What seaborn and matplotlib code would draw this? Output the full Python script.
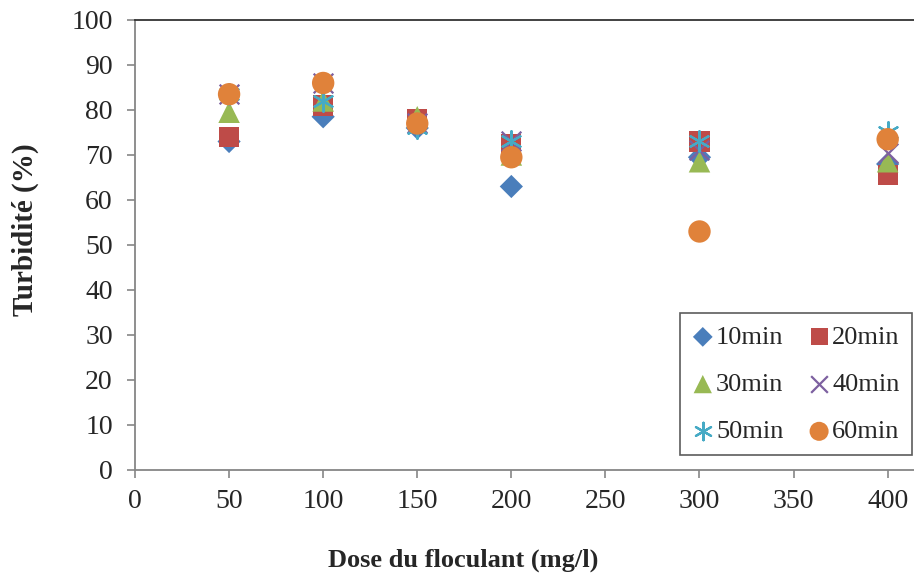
import matplotlib
matplotlib.use("Agg")
import matplotlib.pyplot as plt
import seaborn as sns
import pandas as pd

doses = [50, 100, 150, 200, 300, 400]
series_names = ["10min", "20min", "30min", "40min", "50min", "60min"]
v10 = [73, 78.5, 76, 63, 69.5, 68]
v20 = [74, 81, 78, 72.5, 73, 65.5]
v30 = [79.5, 82, 78.5, 70, 68.5, 68.5]
v40 = [83.5, 86, 77, 73, 71, 70.5]
v50 = [83.5, 82, 76, 73, 73, 75]
v60 = [83.5, 86, 77, 69.5, 53, 73.5]
values = [v10, v20, v30, v40, v50, v60]

colors = ["#4A7EBB", "#BE4B48", "#98B954", "#7D60A0", "#46AAC5", "#E0823A"]
markers = ["D", "s", "^", "x", (6, 2, 0), "o"]
sizes = [140, 210, 240, 200, 220, 260]

sns.set_style("white")
plt.rcParams['font.family'] = ['Liberation Serif', 'DejaVu Serif']

fig = plt.figure(figsize=(9.14, 5.73), dpi=100)
ax = fig.add_axes([0.1477, 0.1798, 0.8523, 0.7853])

for name, vals, c, m, s in zip(series_names, values, colors, markers, sizes):
    df = pd.DataFrame({"dose": doses, "val": vals})
    kw = dict(color=c, marker=m, s=s, label=name, ax=ax, zorder=3)
    if m in ("x", (6, 2, 0)):
        kw["linewidth"] = 1.6
    else:
        kw["edgecolor"] = "none"
    sns.scatterplot(data=df, x="dose", y="val", **kw)

ax.set_xlim(0, 414)
ax.set_ylim(0, 100)
ax.set_xticks(range(0, 401, 50))
ax.set_yticks(range(0, 101, 10))
ax.tick_params(axis="both", which="major", labelsize=20, direction="out",
               length=6, width=1.2, color="#868686", left=True, bottom=True)
ax.tick_params(axis="y", pad=10)
ax.tick_params(axis="x", pad=8)

for sp in ["left", "bottom"]:
    ax.spines[sp].set_color("#868686")
    ax.spines[sp].set_linewidth(1.3)
ax.spines["top"].set_color("#333333")
ax.spines["top"].set_linewidth(1.3)
ax.spines["right"].set_visible(False)

ax.set_xlabel("Dose du floculant (mg/l)", fontsize=19, fontweight="bold")
ax.xaxis.set_label_coords(0.421, -0.2)
ax.xaxis.label.set_verticalalignment("center")
ax.set_ylabel("Turbidité (%)", fontsize=21, fontweight="bold")
ax.yaxis.set_label_coords(-0.141, 0.535)
ax.yaxis.label.set_verticalalignment("center")

handles, labels = ax.get_legend_handles_labels()
order = [0, 2, 4, 1, 3, 5]
leg = ax.legend([handles[i] for i in order], [labels[i] for i in order],
                ncol=2, loc="lower right", bbox_to_anchor=(0.997, 0.033),
                borderaxespad=0.0,
                fontsize=19, frameon=True, fancybox=False, edgecolor="#333333",
                handletextpad=0.1, columnspacing=0.95, labelspacing=0.9,
                borderpad=0.45, handlelength=0.8, markerscale=0.85)
leg.get_frame().set_linewidth(1.2)

fig.savefig("out.png", dpi=100)
